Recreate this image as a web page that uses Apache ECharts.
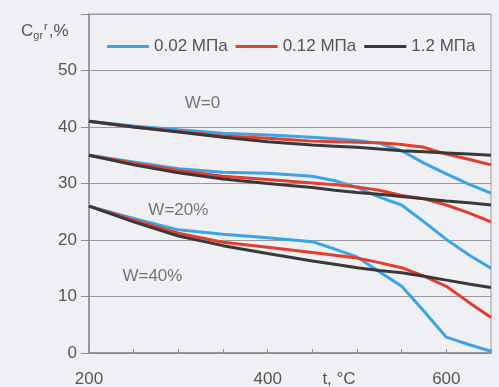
<!DOCTYPE html>
<html lang="ru">
<head>
    <meta charset="UTF-8">
    <title>Cgr</title>
    <script src="https://cdn.jsdelivr.net/npm/echarts@6/dist/echarts.min.js"></script>
    <style>
        html, body { margin: 0; padding: 0; background: #eef0f3; }
    </style>
</head>
<body>
<div id="chartmain" style="width: 499px; height: 387px;"></div>
<script type="text/javascript">
    // температура, °C
    var temps = [200, 250, 300, 350, 400, 450, 475, 500, 525, 550, 575, 600, 625, 650];
    var names = ['0.02 МПа', '0.12 МПа', '1.2 МПа'];
    var colors = ['#3ca4e6', '#e63c2c', '#383838'];

    // W=0
    var w0_002 = [41, 40.2, 39.5, 38.9, 38.6, 38.2, 37.9, 37.6, 37.1, 35.8, 33.6, 31.7, 29.9, 28.3];
    var w0_012 = [41, 40, 39.2, 38.4, 38, 37.5, 37.4, 37.3, 37.2, 36.9, 36.4, 35.2, 34.3, 33.3];
    var w0_12  = [41, 40, 39.1, 38.2, 37.4, 36.8, 36.6, 36.4, 36.1, 35.8, 35.6, 35.4, 35.2, 35.0];
    // W=20%
    var w20_002 = [35, 33.8, 32.6, 32, 31.8, 31.3, 30.5, 29.3, 27.6, 26.2, 23.2, 20.1, 17.4, 15];
    var w20_012 = [35, 33.6, 32.3, 31.3, 30.7, 30.1, 29.8, 29.4, 28.8, 27.9, 27.3, 26.2, 24.8, 23.2];
    var w20_12  = [35, 33.3, 31.9, 30.8, 30, 29.3, 28.8, 28.4, 28.1, 27.7, 27.3, 26.9, 26.6, 26.2];
    // W=40%
    var w40_002 = [26, 23.8, 21.8, 21, 20.4, 19.7, 18.4, 17, 14.4, 11.8, 7.4, 2.8, 1.5, 0.3];
    var w40_012 = [26, 23.5, 21.2, 19.6, 18.7, 17.8, 17.3, 16.8, 16, 15.1, 13.6, 11.8, 9.0, 6.3];
    var w40_12  = [26, 23.2, 20.7, 19, 17.6, 16.3, 15.7, 15.1, 14.6, 14.2, 13.6, 12.9, 12.2, 11.6];

    var notes = [[327, 44.2, 'W=0'], [300, 25.3, 'W=20%'], [271, 13.6, 'W=40%']];

    var groups = [
        [w0_002, w0_012, w0_12],
        [w20_002, w20_012, w20_12],
        [w40_002, w40_012, w40_12]
    ];

    function pairs(vals) {
        var out = [];
        for (var i = 0; i < temps.length; i++) {
            out.push([temps[i], vals[i]]);
        }
        return out;
    }

    var series = [];
    for (var g = 0; g < groups.length; g++) {
        for (var k = 0; k < 3; k++) {
            series.push({
                name: names[k],
                type: 'line',
                data: pairs(groups[g][k]),
                symbol: 'none',
                color: colors[k],
                lineStyle: {width: 3, color: colors[k]}
            });
        }
    }
    series.push({
        name: 'notes',
        type: 'scatter',
        data: notes,
        symbolSize: 0,
        silent: true,
        label: {
            show: true,
            position: 'inside',
            formatter: function (p) { return p.data[2]; },
            color: '#555',
            fontSize: 17,
            fontFamily: 'Liberation Sans, Arial, sans-serif'
        }
    });

    var txt = '#555';
    var font = 'Liberation Sans, Arial, sans-serif';

    var option = {
        backgroundColor: '#eef0f3',
        textStyle: {fontFamily: font},
        title: {
            left: 16,
            top: 16,
            text: '{c|C}{sub|gr}{sup|r}{c|,%}',
            textStyle: {
                fontWeight: 'normal',
                rich: {
                    c: {fontSize: 17, color: txt, fontFamily: font, fontWeight: 'normal'},
                    sub: {fontSize: 11, color: txt, fontFamily: font, fontWeight: 'normal', padding: [8, 0, 0, 0]},
                    sup: {fontSize: 11, color: txt, fontFamily: font, fontWeight: 'normal', padding: [0, 1, 10, 1]}
                }
            }
        },
        legend: {
            data: names,
            left: 102,
            top: 33,
            icon: 'rect',
            itemWidth: 42,
            itemHeight: 3,
            itemGap: 8,
            textStyle: {fontSize: 17, color: txt, fontFamily: font}
        },
        grid: {
            left: 89,
            right: 8,
            top: 14,
            bottom: 34,
            outerBoundsMode: 'none',
            containLabel: false,
            show: true,
            borderColor: '#9a9a9a',
            borderWidth: 1,
            backgroundColor: 'transparent'
        },
        xAxis: {
            type: 'value',
            min: 200,
            max: 650,
            interval: 50,
            name: 't, °C',
            nameLocation: 'middle',
            nameGap: 26,
            nameMoveOverlap: false,
            nameTextStyle: {fontSize: 17, color: txt, fontFamily: font, padding: [0, 0, 0, 98], verticalAlign: 'middle'},
            axisLine: {show: true, lineStyle: {color: '#8a8a8a', width: 1.5}},
            axisTick: {show: true, inside: true, length: 4, lineStyle: {color: '#8a8a8a'}},
            splitLine: {show: false},
            axisLabel: {
                margin: 18,
                fontSize: 17,
                color: txt,
                fontFamily: font,
                formatter: function (v) { return v % 200 === 0 ? String(v) : ''; }
            }
        },
        yAxis: {
            type: 'value',
            min: 0,
            max: 60,
            interval: 10,
            axisLine: {show: true, lineStyle: {color: '#8a8a8a', width: 1.5}},
            axisTick: {show: true, length: 8, lineStyle: {color: '#8a8a8a'}},
            splitLine: {show: true, lineStyle: {color: '#9a9a9a', width: 1}},
            axisLabel: {
                margin: 12,
                fontSize: 17,
                color: txt,
                fontFamily: font,
                formatter: function (v) { return v === 60 ? '' : String(v); }
            }
        },
        series: series
    };

    var myChart = echarts.init(document.getElementById('chartmain'));
    myChart.setOption(option);
</script>
</body>
</html>
